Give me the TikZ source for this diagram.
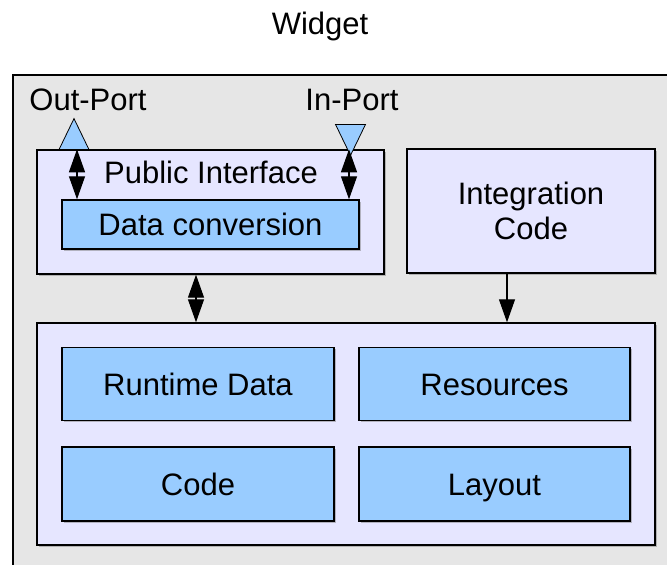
\documentclass[tikz,border=0pt]{standalone}
\usepackage{fontspec}
\setmainfont{Liberation Sans}
\usetikzlibrary{arrows.meta,shapes.geometric,shadows}

\definecolor{widgetgray}{HTML}{E6E6E6}
\definecolor{panelfill}{HTML}{E6E6FF}
\definecolor{partfill}{HTML}{99CCFF}
\newcommand\boxfont{\fontsize{31pt}{35pt}\selectfont}

\tikzset{
    panel/.style={draw, line width=1.4pt, fill=panelfill, inner sep=0pt,
        drop shadow={shadow xshift=1.5pt, shadow yshift=-1.5pt, fill=gray, opacity=.5}},
    part/.style={panel, fill=partfill, text height=22.5pt, text depth=0pt},
    port/.style={draw, line width=.8pt, fill=partfill, isosceles triangle,
        isosceles triangle stretches, minimum width=30pt, minimum height=31pt, inner sep=0pt},
    link/.style={line width=1.2pt, {Triangle[length=23pt,width=16pt]}-{Triangle[length=23pt,width=16pt]}},
    feed/.style={line width=1.2pt, -{Triangle[length=23pt,width=16pt]}}
}

\begin{document}
\begin{tikzpicture}[x=1pt, y=-1pt, every node/.style={font=\boxfont}]
    \useasboundingbox (0,0) rectangle (667,565);
    \clip (0,0) rectangle (667,565);

    \node (title) at (320, 26) {Widget};
    \draw[line width=1.4pt, fill=widgetgray] (13,620) -- (13,75) -- (720,75) -- (720,620) -- cycle;

    \node[panel, minimum width=347pt, minimum height=124pt] (pi) at (210.5, 212) {};
    \node (pilabel) at (211, 172) {Public Interface};
    \node[part, minimum width=297pt, minimum height=49pt] (dc) at (210.5, 224.5) {Data conversion};

    \node[panel, minimum width=248pt, minimum height=124pt, align=center] (ic) at (531, 211)
        {Integration\\Code};

    \node[panel, minimum width=618pt, minimum height=222pt] (core) at (346, 434) {};
    \node[part, minimum width=272pt, minimum height=73pt] (rt) at (198, 384) {Runtime Data};
    \node[part, minimum width=271pt, minimum height=73pt] (res) at (494.5, 384) {Resources};
    \node[part, minimum width=272pt, minimum height=74pt] (code) at (198, 484) {Code};
    \node[part, minimum width=271pt, minimum height=74pt] (lay) at (494.5, 484) {Layout};

    \node[port, shape border rotate=90, anchor=lower side] (outport) at (74, 150) {};
    \node[port, shape border rotate=270, anchor=lower side] (inport) at (350.5, 124) {};
    \node (outlabel) at (88, 100) {Out-Port};
    \node (inlabel) at (352, 100) {In-Port};

    \coordinate (outpin) at (77, 0);
    \coordinate (inpin) at (349, 0);
    \coordinate (corepin) at (196, 0);
    \coordinate (icpin) at (507, 0);

    \draw[link] (pi.north -| outpin) -- (dc.north -| outpin);
    \draw[link] (pi.north -| inpin) -- (dc.north -| inpin);
    \draw[link] (pi.south -| corepin) -- (core.north -| corepin);
    \draw[feed] (ic.south -| icpin) -- (core.north -| icpin);
\end{tikzpicture}
\end{document}
